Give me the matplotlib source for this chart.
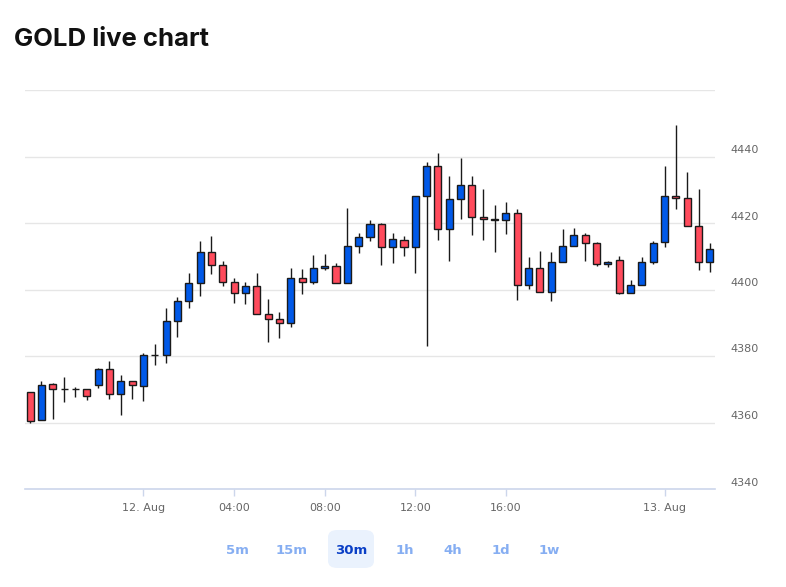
import numpy as np
import matplotlib
matplotlib.use("Agg")
import matplotlib.pyplot as plt
from matplotlib.patches import FancyBboxPatch
from matplotlib.transforms import offset_copy

# 30 min candles, index = position on the ordinal x axis
opens = [4369.1, 4360.7, 4371.6, 4370.1, 4370.0, 4370.0, 4371.4, 4376.2, 4368.6, 4372.4,
         4371.0, 4380.2, 4380.2, 4390.5, 4396.6, 4402.0, 4411.3, 4407.4, 4402.4, 4399.0,
         4401.0, 4392.5, 4391.2, 4389.8, 4403.4, 4402.4, 4406.4, 4407.1, 4401.9, 4413.2,
         4415.9, 4419.6, 4412.7, 4414.9, 4412.7, 4428.0, 4437.0, 4418.2, 4427.2, 4431.4,
         4421.9, 4421.1, 4420.9, 4422.9, 4401.5, 4406.4, 4399.2, 4408.4, 4413.2, 4416.5,
         4413.9, 4407.6, 4408.9, 4399.0, 4401.5, 4408.3, 4414.4, 4428.2, 4427.4, 4419.1,
         4408.3]
highs = [4369.1, 4372.4, 4371.9, 4373.8, 4370.6, 4370.0, 4376.5, 4378.4, 4374.3, 4372.4,
         4380.9, 4383.6, 4394.4, 4397.7, 4404.9, 4414.6, 4416.1, 4408.7, 4403.4, 4402.4,
         4404.9, 4397.0, 4393.2, 4406.5, 4406.2, 4410.3, 4410.6, 4407.9, 4424.4, 4417.0,
         4421.0, 4420.0, 4417.0, 4416.0, 4428.0, 4438.2, 4441.2, 4434.2, 4439.5, 4434.2,
         4430.2, 4425.4, 4426.4, 4424.2, 4409.9, 4411.5, 4411.2, 4418.2, 4418.4, 4416.9,
         4414.2, 4408.6, 4410.1, 4403.0, 4409.8, 4414.5, 4437.1, 4449.6, 4435.3, 4430.2,
         4414.1]
lows = [4360.0, 4360.7, 4361.0, 4366.3, 4367.6, 4366.9, 4370.4, 4367.1, 4362.3, 4367.1,
        4366.6, 4377.4, 4378.0, 4385.6, 4394.4, 4397.9, 4404.6, 4401.0, 4396.0, 4395.5,
        4392.5, 4384.3, 4385.3, 4388.6, 4398.6, 4401.7, 4406.0, 4401.9, 4401.9, 4410.9,
        4414.7, 4407.5, 4407.9, 4410.2, 4404.9, 4383.0, 4414.9, 4408.7, 4421.2, 4416.4,
        4415.0, 4411.4, 4416.7, 4396.7, 4400.2, 4399.2, 4396.4, 4408.4, 4413.2, 4408.7,
        4407.2, 4406.9, 4398.5, 4398.8, 4401.3, 4407.6, 4412.9, 4424.2, 4419.1, 4406.0,
        4405.3]
closes = [4360.5, 4371.4, 4370.0, 4370.0, 4370.1, 4368.0, 4376.2, 4368.6, 4372.4, 4371.4,
          4380.2, 4380.3, 4390.5, 4396.6, 4402.0, 4411.3, 4407.4, 4402.4, 4399.0, 4401.0,
          4392.5, 4391.2, 4389.8, 4403.4, 4402.4, 4406.4, 4407.1, 4401.9, 4413.2, 4415.9,
          4419.6, 4412.7, 4415.2, 4412.7, 4428.0, 4437.0, 4418.2, 4427.2, 4431.4, 4421.9,
          4421.2, 4421.0, 4422.9, 4401.5, 4406.4, 4399.2, 4408.4, 4413.2, 4416.5, 4413.9,
          4407.7, 4408.4, 4399.0, 4401.5, 4408.3, 4414.1, 4428.2, 4427.4, 4419.1, 4408.3,
          4412.1]

tick_pos = [10, 18, 26, 34, 42, 56]
tick_labels = ["12. Aug", "04:00", "08:00", "12:00", "16:00", "13. Aug"]
y_ticks = [4340, 4360, 4380, 4400, 4420, 4440]
buttons = ["5m", "15m", "30m", "1h", "4h", "1d", "1w"]
active = "30m"

up_col = "#0059e8"
down_col = "#ff4b5c"

W, H = 786, 587
fig = plt.figure(figsize=(W / 100, H / 100), dpi=100)
ax = fig.add_axes([25 / W, (H - 489) / H, 690 / W, 399 / H])

o = np.array(opens)
c = np.array(closes)
x = np.arange(len(o))
cols = np.where(c >= o, up_col, down_col)

ax.vlines(x, lows, highs, color="#1a1a1a", linewidth=1, zorder=2)
ax.bar(x, np.abs(c - o), bottom=np.minimum(o, c), width=0.62, color=cols,
       edgecolor="#1a1a1a", linewidth=1, zorder=3)

ax.set_xlim(-0.45, 60.45)
ax.set_ylim(4340, 4460)

# grid
for v in range(4360, 4461, 20):
    ax.axhline(v, color="#e6e6e6", linewidth=1, zorder=0)

for s in ["top", "right", "left"]:
    ax.spines[s].set_visible(False)
ax.spines["bottom"].set_color("#ccd6eb")
ax.spines["bottom"].set_linewidth(1.2)

ax.set_yticks([])
ax.set_xticks(tick_pos)
ax.set_xticklabels(tick_labels, fontsize=8, color="#666666")
ax.tick_params(axis="x", length=5, color="#ccd6eb", width=1, pad=5)

lab_tr = offset_copy(ax.get_yaxis_transform(), fig=fig, x=0, y=6.5, units="dots")
for v in y_ticks:
    ax.text(1.043, v, str(v), transform=lab_tr, ha="center", va="center",
            fontsize=8, color="#666666")

fig.text(14 / W, 1 - 40 / H, "GOLD live chart", fontsize=18.5, fontweight="bold",
         color="#111111", ha="left", va="center", family="Inter")

# time range buttons
btn_x = [237, 292, 351, 405, 453, 501, 549]
for name, bx in zip(buttons, btn_x):
    if name == active:
        box = FancyBboxPatch(((bx - 23) / W, 1 - 568 / H), 46 / W, 38 / H,
                             boxstyle="round,pad=0,rounding_size=0.012",
                             transform=fig.transFigure, facecolor="#eaf2fd",
                             edgecolor="none")
        fig.patches.append(box)
        fig.text(bx / W, 1 - 550 / H, name, fontsize=9.5, fontweight="bold",
                 color="#0a3fc6", ha="center", va="center")
    else:
        fig.text(bx / W, 1 - 550 / H, name, fontsize=9.5, fontweight="bold",
                 color="#86aef2", ha="center", va="center")

fig.savefig("out.png", dpi=100)
